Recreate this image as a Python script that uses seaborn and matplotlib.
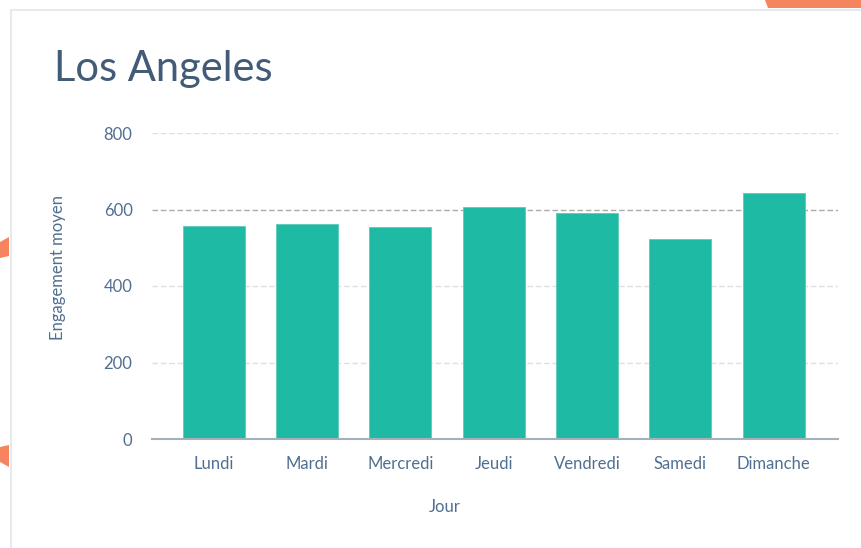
import pandas as pd
import seaborn as sns
import matplotlib.pyplot as plt
from matplotlib.patches import Polygon, Rectangle

jours = ['Lundi', 'Mardi', 'Mercredi', 'Jeudi', 'Vendredi', 'Samedi', 'Dimanche']
engagement = [556, 563, 553, 607, 591, 523, 644]
y_ticks = [0, 200, 400, 600, 800]
ligne_ref = 600

df = pd.DataFrame({'Jour': jours, 'Engagement moyen': engagement})

sns.set_style("white")
plt.rcParams['font.family'] = ['Lato', 'DejaVu Sans']

text_col = '#516f90'
fig = plt.figure(figsize=(8.61, 5.48), dpi=100)

# card + orange decorations
fig.patches.append(Rectangle((11 / 861, -0.1), 1.2, 1 - 10 / 548 + 0.1, transform=fig.transFigure,
                             facecolor='white', edgecolor='#e6e9ed', linewidth=1.5, zorder=-1))
fig.patches.append(Polygon([(765 / 861, 1), (1, 1), (1, 1 - 8 / 548), (768 / 861, 1 - 8 / 548)],
                           closed=True, transform=fig.transFigure, facecolor='#f5845f', edgecolor='none'))
fig.patches.append(Polygon([(0, 1 - 242 / 548), (9 / 861, 1 - 237 / 548), (9 / 861, 1 - 256 / 548), (0, 1 - 258 / 548)],
                           closed=True, transform=fig.transFigure, facecolor='#f5845f', edgecolor='none'))
fig.patches.append(Polygon([(0, 1 - 447 / 548), (9 / 861, 1 - 445 / 548), (9 / 861, 1 - 467 / 548), (0, 1 - 462 / 548)],
                           closed=True, transform=fig.transFigure, facecolor='#f5845f', edgecolor='none'))

ax = fig.add_axes([152 / 861, 1 - 439 / 548, (838 - 152) / 861, (439 - 133) / 548])
sns.barplot(data=df, x='Jour', y='Engagement moyen', color='#1ebaa3', saturation=1,
            width=0.665, ax=ax, zorder=3)
for p in ax.patches:
    p.set_edgecolor('#5ccab9')
    p.set_linewidth(0.6)

ax.set_ylim(0, 800)
ax.set_xlim(-0.66, 6.69)
ax.set_yticks(y_ticks)
for t in y_ticks:
    if t == 0:
        continue
    if t == ligne_ref:
        ax.axhline(t, color='#ababab', linestyle=(0, (4, 2)), linewidth=1, zorder=2)
    else:
        ax.axhline(t, color='#dcdfe3', linestyle=(0, (4, 2)), linewidth=1, zorder=2)

for s in ['top', 'right', 'left']:
    ax.spines[s].set_visible(False)
ax.spines['bottom'].set_color('#a4b0bc')
ax.spines['bottom'].set_linewidth(1.5)
ax.spines['bottom'].set_zorder(4)

ax.tick_params(axis='y', length=0, pad=14, labelsize=12, labelcolor=text_col)
ax.tick_params(axis='x', length=0, pad=12, labelsize=12, labelcolor=text_col)
ax.set_xlabel('Jour', fontsize=12, color=text_col)
ax.set_ylabel('Engagement moyen', fontsize=12, color=text_col)
ax.xaxis.set_label_coords(0.427, -0.222)
ax.yaxis.set_label_coords(-0.137, 0.559)
ax.xaxis.label.set_va('center')
ax.yaxis.label.set_va('center')

fig.text(54 / 861, 1 - 69 / 548, 'Los Angeles', fontsize=30, color='#425b76',
         va='center', ha='left')

plt.savefig('out.png', dpi=100)
plt.close()
